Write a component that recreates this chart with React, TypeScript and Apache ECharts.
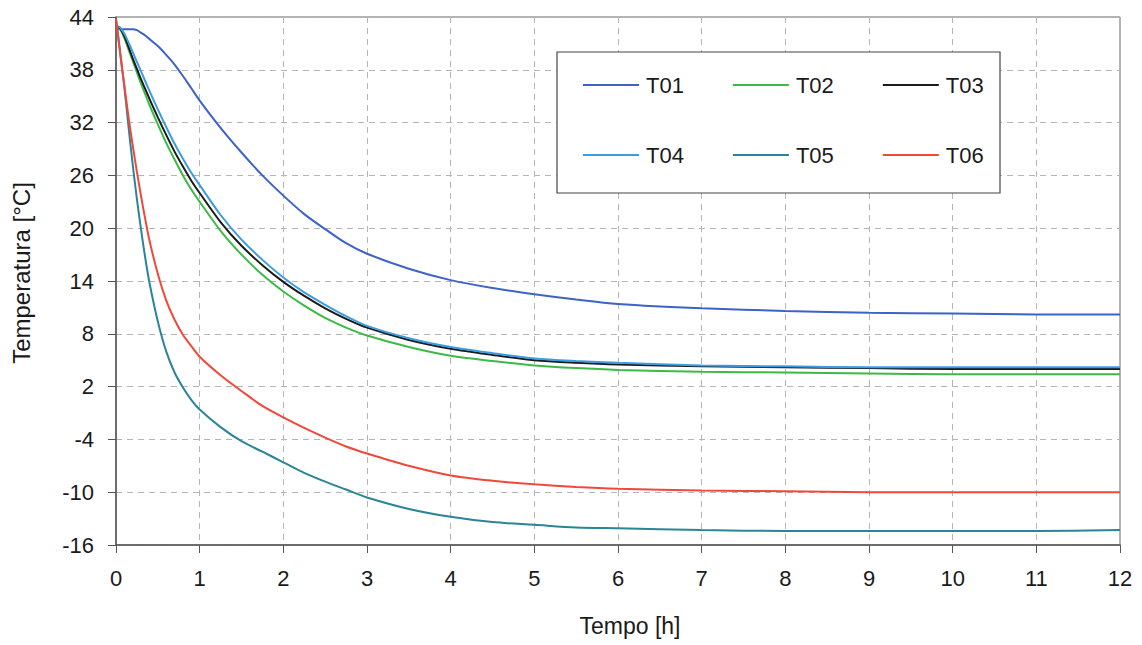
import React, { useEffect, useRef } from "react";
import * as echarts from "echarts";

const timeH = [0, 0.05, 0.1, 0.15, 0.2, 0.25, 0.3, 0.35, 0.4, 0.5, 0.6, 0.7, 0.8, 0.9, 1, 1.25, 1.5, 1.75, 2, 2.25, 2.5, 2.75, 3, 3.5, 4, 4.5, 5, 5.5, 6, 7, 8, 9, 10, 11, 12];

const T01 = [43.0, 42.6, 42.6, 42.6, 42.6, 42.5, 42.2, 41.9, 41.5, 40.7, 39.7, 38.6, 37.3, 35.9, 34.5, 31.4, 28.6, 26.0, 23.7, 21.6, 19.9, 18.3, 17.1, 15.4, 14.1, 13.2, 12.5, 11.9, 11.4, 10.9, 10.6, 10.4, 10.3, 10.2, 10.2];
const T02 = [43.0, 42.6, 41.6, 40.3, 39.0, 37.7, 36.4, 35.2, 34.0, 31.8, 29.7, 27.8, 26.0, 24.4, 23.0, 19.7, 17.0, 14.7, 12.8, 11.2, 9.8, 8.7, 7.8, 6.5, 5.5, 4.9, 4.4, 4.1, 3.9, 3.7, 3.6, 3.5, 3.4, 3.4, 3.4];
const T03 = [43.0, 42.7, 41.8, 40.6, 39.3, 38.1, 36.9, 35.8, 34.7, 32.6, 30.6, 28.7, 27.0, 25.4, 24.0, 20.7, 18.0, 15.8, 13.9, 12.3, 10.9, 9.7, 8.7, 7.3, 6.3, 5.6, 5.0, 4.7, 4.5, 4.3, 4.2, 4.1, 4.0, 4.0, 4.0];
const T04 = [43.0, 42.8, 42.1, 41.1, 40.0, 38.9, 37.8, 36.7, 35.6, 33.5, 31.5, 29.6, 27.9, 26.3, 24.9, 21.5, 18.7, 16.4, 14.4, 12.7, 11.3, 10.0, 8.9, 7.5, 6.5, 5.8, 5.2, 4.9, 4.7, 4.4, 4.3, 4.2, 4.2, 4.2, 4.2];
const T05 = [43.8, 40.0, 36.0, 31.5, 27.2, 23.3, 19.8, 16.6, 13.8, 9.4, 6.0, 3.6, 1.9, 0.5, -0.6, -2.6, -4.2, -5.4, -6.6, -7.8, -8.8, -9.7, -10.6, -11.9, -12.8, -13.4, -13.7, -14.0, -14.1, -14.3, -14.4, -14.4, -14.4, -14.4, -14.3];
const T06 = [43.8, 39.8, 36.2, 32.6, 29.4, 26.4, 23.6, 21.0, 18.6, 14.8, 11.8, 9.6, 7.9, 6.6, 5.4, 3.3, 1.5, -0.2, -1.5, -2.7, -3.8, -4.8, -5.6, -7.0, -8.1, -8.7, -9.1, -9.4, -9.6, -9.8, -9.9, -10.0, -10.0, -10.0, -10.0];

const seriesNames = ["T01", "T02", "T03", "T04", "T05", "T06"];
const seriesValues = [T01, T02, T03, T04, T05, T06];
const seriesColors = ["#3d62c8", "#3cba46", "#1b1b1b", "#3c9ce2", "#2b8498", "#f1483b"];

const xAxisTitle = "Tempo [h]";
const yAxisTitle = "Temperatura [°C]";

export default function App() {
  const ref = useRef<HTMLDivElement>(null);
  useEffect(() => {
    if (!ref.current) return;
    const chart = echarts.init(ref.current, null, { renderer: "svg" });
    const font = "Liberation Sans, Arial, sans-serif";
    const series = seriesNames.map((name, i) => ({
      name,
      type: "line",
      data: timeH.map((t, k) => [t, seriesValues[i][k]]),
      showSymbol: false,
      smooth: 0.3,
      lineStyle: { width: 2, color: seriesColors[i] },
      itemStyle: { color: seriesColors[i] },
      z: 2,
    }));
    const legendCommon = {
      orient: "horizontal",
      left: 583,
      padding: 0,
      itemWidth: 56,
      itemHeight: 14,
      itemGap: 49,
      icon: "path://M0,6 L56,6 L56,8 L0,8 Z",
      textStyle: { fontSize: 22, color: "#1a1a1a", fontFamily: font, padding: [0, 0, 0, 2] },
      z: 5,
    };
    chart.setOption({
      animation: false,
      backgroundColor: "#ffffff",
      grid: {
        left: 116,
        right: 22,
        top: 17,
        bottom: 100,
        show: true,
        borderColor: "#666666",
        borderWidth: 1,
      },
      xAxis: {
        type: "value",
        min: 0,
        max: 12,
        interval: 1,
        axisLine: { show: true, onZero: false, lineStyle: { color: "#555555", width: 1.5 } },
        axisTick: { show: true, inside: false, length: 8, lineStyle: { color: "#555555" } },
        axisLabel: { margin: 22, fontSize: 22, color: "#1a1a1a", fontFamily: font },
        splitLine: { show: true, lineStyle: { color: "#b5b5b5", type: [6, 5], width: 1 } },
      },
      yAxis: {
        type: "value",
        min: -16,
        max: 44,
        interval: 6,
        axisLine: { show: true, onZero: false, lineStyle: { color: "#555555", width: 1.5 } },
        axisTick: { show: true, inside: false, length: 8, lineStyle: { color: "#555555" } },
        axisLabel: { margin: 22, fontSize: 22, color: "#1a1a1a", fontFamily: font },
        splitLine: { show: true, lineStyle: { color: "#b5b5b5", type: [6, 5], width: 1 } },
      },
      legend: [
        { ...legendCommon, top: 74, data: ["T01", "T02", "T03"] },
        { ...legendCommon, top: 144, data: ["T04", "T05", "T06"] },
      ],
      graphic: [
        {
          type: "rect",
          z: 3,
          shape: { x: 557, y: 52, width: 443, height: 141 },
          style: { fill: "#ffffff", stroke: "#444444", lineWidth: 1.2 },
        },
        {
          type: "text",
          x: 630,
          y: 626,
          style: {
            text: xAxisTitle,
            fontSize: 23,
            fontFamily: font,
            fill: "#1a1a1a",
            align: "center",
            verticalAlign: "middle",
          },
        },
        {
          type: "text",
          x: 21,
          y: 273,
          rotation: Math.PI / 2,
          style: {
            text: yAxisTitle,
            fontSize: 24,
            fontFamily: font,
            fill: "#1a1a1a",
            align: "center",
            verticalAlign: "middle",
          },
        },
      ],
      series,
    });
    return () => chart.dispose();
  }, []);
  return <div ref={ref} style={{ width: 1142, height: 645, position: "absolute", left: 0, top: 0 }} />;
}
